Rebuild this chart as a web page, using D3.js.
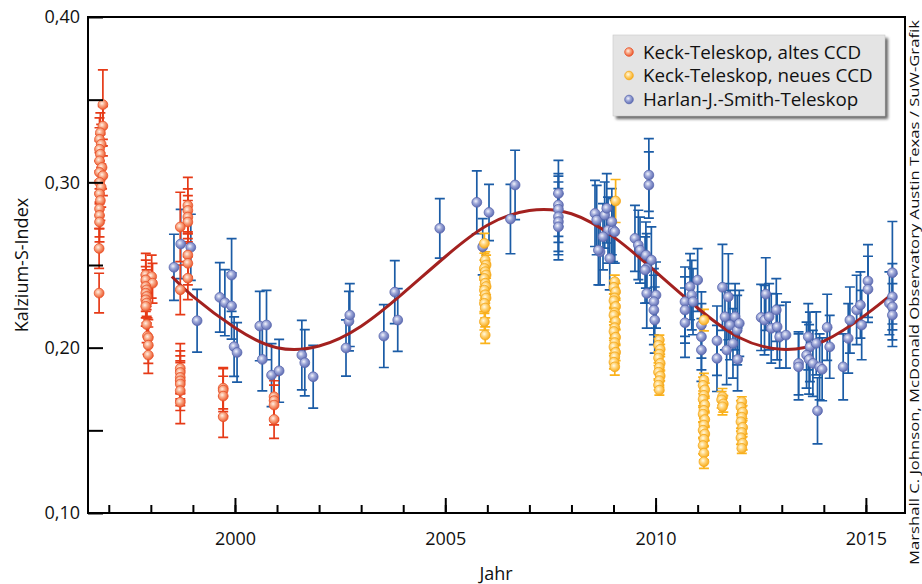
<!DOCTYPE html>
<html>
<head>
<meta charset="utf-8">
<script src="https://cdn.jsdelivr.net/npm/d3@7"></script>
<style>
  body { margin: 0; background: #fff; }
  svg { display: block; font-family: "Open Sans", sans-serif; }
</style>
</head>
<body>
<script>
// Dimensions
var width = 922,
    height = 584;

// ---- data ----
var yMajor = [0.10, 0.20, 0.30, 0.40];
var yMinor = [0.15, 0.25, 0.35];
var xMajor = [2000, 2005, 2010, 2015];
var xMinor = d3.range(1997, 2016);

var legendLabels = ["Keck-Teleskop, altes CCD", "Keck-Teleskop, neues CCD", "Harlan-J.-Smith-Teleskop"];
var credit = "Marshall C. Johnson, McDonald Observatory Austin Texas / SuW-Grafik";

// Keck, old CCD
var keckOldYear = [
  1996.86,1996.86,1996.80,1996.78,1996.82,1996.78,1996.80,1996.78,1996.84,1996.78,
  1996.86,1996.78,1996.82,1996.78,1996.80,1996.78,1996.78,1996.78,1996.77,1996.77,
  1997.88,1998.02,1997.88,1998.04,1997.88,1997.90,1997.88,1997.90,1997.88,1997.90,
  1997.88,1997.90,1997.92,1997.94,1997.94,1997.94,
  1998.88,1998.88,1998.88,1998.88,1998.70,1998.88,1998.88,1998.88,1998.70,
  1998.70,1998.70,1998.70,1998.70,1998.70,1998.70,1998.70,
  1999.72,1999.72,1999.72,1999.72,
  2000.93,2000.93,2000.93,2000.93
];
var keckOldS = [
  0.347,0.334,0.330,0.326,0.323,0.320,0.317,0.313,0.309,0.306,
  0.304,0.300,0.297,0.293,0.289,0.284,0.280,0.276,0.260,0.233,
  0.244,0.243,0.241,0.239,0.237,0.235,0.233,0.231,0.229,0.227,
  0.225,0.214,0.207,0.206,0.2015,0.1955,
  0.286,0.283,0.279,0.276,0.273,0.256,0.251,0.242,0.235,
  0.1875,0.185,0.182,0.180,0.178,0.174,0.167,
  0.1755,0.1743,0.1707,0.1582,
  0.1703,0.168,0.1653,0.1566
];
var keckOldErr = [
  0.021,0.012,0.012,0.013,0.012,0.013,0.012,0.012,0.013,0.012,
  0.012,0.013,0.012,0.013,0.012,0.012,0.013,0.012,0.012,0.012,
  0.013,0.013,0.012,0.012,0.012,0.012,0.011,0.012,0.011,0.012,
  0.012,0.011,0.011,0.011,0.011,0.011,
  0.017,0.013,0.013,0.013,0.021,0.013,0.013,0.013,0.015,
  0.015,0.013,0.013,0.012,0.013,0.012,0.013,
  0.0125,0.013,0.012,0.0125,
  0.013,0.012,0.012,0.0115
];

// Keck, new CCD
var keckNewYear = [
  2005.93,2005.95,2005.97,2005.93,2005.95,2005.97,2005.93,2005.95,
  2005.97,2005.93,2005.95,2005.97,2005.93,2005.95,2005.93,2005.95,
  2009.05,
  2009.03,2009.01,2009.05,2009.03,2009.01,2009.05,2009.03,2009.01,2009.05,
  2009.03,2009.01,2009.05,2009.03,2009.01,2009.05,2009.03,2009.01,2009.03,
  2010.09,2010.07,2010.11,2010.09,2010.07,2010.11,2010.09,2010.07,2010.11,2010.09,2010.07,2010.09,
  2011.15,
  2011.15,2011.13,2011.17,2011.15,2011.13,2011.17,2011.15,2011.13,
  2011.17,2011.15,2011.13,2011.17,2011.15,2011.13,2011.15,2011.15,
  2011.59,2011.57,2011.61,2011.59,
  2012.05,2012.03,2012.07,2012.05,2012.03,2012.07,2012.05,2012.03,2012.07,2012.05
];
var keckNewS = [
  0.2631,0.2530,0.2500,0.2480,0.2460,0.2440,0.2419,0.2390,
  0.2370,0.2348,0.2320,0.2300,0.2268,0.2240,0.2157,0.2076,
  0.2887,
  0.2399,0.2365,0.2338,0.2301,0.2284,0.2249,0.2212,0.2196,0.2158,
  0.2121,0.2098,0.2063,0.2031,0.2005,0.1972,0.1945,0.1912,0.1884,
  0.2046,0.2015,0.1990,0.1962,0.1938,0.1905,0.1881,0.1852,0.1829,0.1801,0.1774,0.1743,
  0.2167,
  0.1804,0.1772,0.1745,0.1712,0.1688,0.1655,0.1621,0.1598,
  0.1565,0.1532,0.1501,0.1478,0.1446,0.1408,0.1362,0.1310,
  0.1703,0.1685,0.1660,0.1643,
  0.1673,0.1640,0.1610,0.1580,0.1552,0.1518,0.1487,0.1455,0.1422,0.1391
];
var keckNewErr = [
  0.006,0.005,0.006,0.005,0.006,0.007,0.005,0.006,
  0.005,0.006,0.005,0.006,0.005,0.006,0.005,0.005,
  0.013,
  0.004,0.004,0.005,0.004,0.004,0.005,0.004,0.004,0.005,
  0.004,0.004,0.005,0.004,0.004,0.005,0.004,0.004,0.005,
  0.003,0.004,0.003,0.004,0.003,0.004,0.003,0.004,0.003,0.004,0.003,0.003,
  0.0065,
  0.004,0.005,0.004,0.004,0.005,0.004,0.004,0.005,
  0.004,0.004,0.005,0.004,0.004,0.005,0.004,0.004,
  0.005,0.005,0.005,0.005,
  0.003,0.004,0.004,0.003,0.004,0.004,0.003,0.004,0.004,0.003
];

// Harlan J. Smith telescope
var hjsYear = [
  1998.55,1998.71,1998.95,1999.10,1999.64,1999.76,1999.92,1999.92,1999.98,2000.05,
  2000.59,2000.75,2000.65,2000.87,2001.05,2001.59,2001.66,2001.86,
  2002.64,2002.71,2002.73,2003.54,2003.80,2003.87,2004.87,
  2005.75,2005.89,2006.04,2006.55,2006.66,
  2007.69,2007.69,2007.69,2007.69,2007.69,2007.69,
  2008.56,2008.60,2008.79,2008.84,2008.87,2008.75,2008.99,2008.68,2008.91,2008.64,2008.96,2009.03,
  2009.51,2009.59,2009.63,2009.77,2009.84,2009.84,2009.90,2009.79,2009.75,2009.79,2010.01,2009.96,2009.96,2009.98,
  2010.70,2010.70,2010.70,2010.82,2010.86,2010.89,2011.00,2011.09,2011.09,2011.09,
  2011.59,2011.73,2011.46,2011.46,2011.69,2011.65,2011.77,2011.89,2011.94,2011.99,2011.84,2011.95,
  2012.62,2012.51,2012.59,2012.70,2012.75,2012.87,2012.89,2012.95,2013.10,
  2013.40,2013.40,2013.63,2013.67,2013.59,2013.65,2013.74,2013.82,2013.90,2013.96,2014.08,2014.14,2013.85,
  2014.46,2014.58,2014.62,2014.78,2014.87,2014.90,2015.05,2015.05,
  2015.63,2015.63,2015.56,2015.63,2015.63
];
var hjsS = [
  0.2486,0.2627,0.2607,0.2163,0.2304,0.2272,0.2439,0.2252,0.2006,0.1971,
  0.2131,0.2137,0.1929,0.1834,0.1860,0.1955,0.1909,0.1824,
  0.1998,0.2160,0.2197,0.2070,0.2336,0.2167,0.2722,
  0.2879,0.2610,0.2818,0.2778,0.2984,
  0.2933,0.2863,0.2837,0.2792,0.2762,0.2731,
  0.2812,0.2772,0.2802,0.2843,0.2711,0.2671,0.2711,0.2580,0.2540,0.2590,0.2762,0.2701,
  0.2661,0.2621,0.2590,0.2560,0.3044,0.2984,0.2530,0.2480,0.2470,0.2328,0.2318,0.2278,0.2228,0.2167,
  0.2278,0.2228,0.2151,0.2369,0.2318,0.2278,0.2409,0.2137,0.2066,0.1986,
  0.2365,0.2308,0.2042,0.1935,0.1986,0.2187,0.2137,0.2187,0.2106,0.2147,0.2026,0.1929,
  0.2324,0.2183,0.2167,0.2187,0.2117,0.2228,0.2126,0.2066,0.2076,
  0.1905,0.1884,0.2066,0.2005,0.1955,0.1929,0.1905,0.2026,0.1884,0.1869,0.2123,0.2005,0.1618,
  0.1884,0.2056,0.2167,0.2228,0.2258,0.2137,0.2403,0.2353,
  0.2453,0.2308,0.2268,0.2247,0.2197
];
var hjsErr = [
  0.020,0.021,0.020,0.019,0.021,0.020,0.022,0.020,0.018,0.018,
  0.021,0.021,0.019,0.019,0.019,0.021,0.020,0.019,
  0.017,0.018,0.019,0.019,0.019,0.019,0.018,
  0.019,0.017,0.017,0.021,0.021,
  0.020,0.019,0.020,0.021,0.020,0.020,
  0.020,0.021,0.020,0.021,0.020,0.020,0.019,0.020,0.019,0.021,0.020,0.019,
  0.020,0.021,0.020,0.020,0.022,0.020,0.020,0.021,0.020,0.021,0.020,0.020,0.021,0.020,
  0.021,0.020,0.021,0.020,0.021,0.020,0.019,0.020,0.020,0.019,
  0.026,0.026,0.021,0.020,0.021,0.020,0.021,0.020,0.021,0.020,0.021,0.019,
  0.022,0.020,0.021,0.020,0.021,0.019,0.020,0.019,0.020,
  0.019,0.020,0.020,0.021,0.020,0.021,0.020,0.019,0.020,0.019,0.020,0.019,0.020,
  0.020,0.021,0.020,0.021,0.020,0.021,0.022,0.020,
  0.031,0.020,0.019,0.020,0.019
];

// fitted activity cycle
var fitYear = [1998.5, 1999, 2000, 2001, 2002, 2003, 2004, 2005, 2006, 2007,
               2008, 2009, 2010, 2011, 2012, 2013, 2014, 2015, 2015.65];
var fitS = [0.243, 0.231, 0.212, 0.200, 0.201, 0.213, 0.233, 0.255, 0.274, 0.283,
            0.281, 0.267, 0.246, 0.224, 0.206, 0.199, 0.204, 0.220, 0.233];

// ---- scales ----
var x = d3.scaleLinear().domain([1996.506, 2015.93]).range([88, 905]);
var y = d3.scaleLinear().domain([0.10, 0.40]).range([513, 17]);
var comma = function(d) { return d3.format(".2f")(d).replace(".", ","); };

var svg = d3.select("body").append("svg")
    .attr("width", width)
    .attr("height", height);

var defs = svg.append("defs");

function ball(id, c0, c1, c2) {
  var g = defs.append("radialGradient").attr("id", id)
      .attr("cx", "40%").attr("cy", "38%").attr("r", "62%");
  g.append("stop").attr("offset", "0%").attr("stop-color", c0);
  g.append("stop").attr("offset", "45%").attr("stop-color", c1);
  g.append("stop").attr("offset", "100%").attr("stop-color", c2);
}
ball("gRed", "#fff0e6", "#f8a683", "#ec5a30");
ball("gYel", "#fffbe6", "#ffd479", "#f8ad1e");
ball("gBlu", "#f3f4fb", "#9da7d8", "#5f6db3");

defs.append("filter").attr("id", "blur")
  .append("feGaussianBlur").attr("stdDeviation", 1.8);

var series = [
  {years: hjsYear, s: hjsS, err: hjsErr, bar: "#1b5ca6", fill: "url(#gBlu)", stroke: "#5a68ae"},
  {years: keckOldYear, s: keckOldS, err: keckOldErr, bar: "#e63a17", fill: "url(#gRed)", stroke: "#e9532b"},
  {years: keckNewYear, s: keckNewS, err: keckNewErr, bar: "#fbb31b", fill: "url(#gYel)", stroke: "#f4a81c"}
];

series.forEach(function(sr) {
  sr.data = sr.years.map(function(t, i) { return {t: t, s: sr.s[i], e: sr.err[i]}; });
});

// error bars
series.forEach(function(sr) {
  var g = svg.append("g").attr("stroke", sr.bar).attr("stroke-width", 1.7).attr("fill", "none");
  g.selectAll("path").data(sr.data).enter().append("path")
    .attr("d", function(d) {
      var cx = x(d.t), y0 = y(d.s - d.e), y1 = y(d.s + d.e);
      return "M" + cx + "," + y0 + "V" + y1 +
             "M" + (cx - 5) + "," + y0 + "H" + (cx + 5) +
             "M" + (cx - 5) + "," + y1 + "H" + (cx + 5);
    });
});

// fit curve
var line = d3.line()
    .x(function(d, i) { return x(fitYear[i]); })
    .y(function(d) { return y(d); })
    .curve(d3.curveNatural);
svg.append("path")
    .attr("d", line(fitS))
    .attr("fill", "none")
    .attr("stroke", "#a3211f")
    .attr("stroke-width", 3);

// points
series.forEach(function(sr) {
  svg.append("g").selectAll("circle").data(sr.data).enter().append("circle")
    .attr("cx", function(d) { return x(d.t); })
    .attr("cy", function(d) { return y(d.s); })
    .attr("r", 4.9)
    .attr("fill", sr.fill)
    .attr("stroke", sr.stroke)
    .attr("stroke-width", 0.8);
});

// axes (ticks inward)
svg.append("g").attr("transform", "translate(88,0)")
    .call(d3.axisLeft(y).tickValues(yMajor).tickSize(-15).tickPadding(8).tickFormat(comma));
svg.append("g").attr("transform", "translate(88,0)")
    .call(d3.axisLeft(y).tickValues(yMinor).tickSize(-15).tickFormat(""));
svg.append("g").attr("transform", "translate(0,513)")
    .call(d3.axisBottom(x).tickValues(xMajor).tickSize(-15).tickPadding(19).tickFormat(d3.format("d")));
svg.append("g").attr("transform", "translate(0,513)")
    .call(d3.axisBottom(x).tickValues(xMinor).tickSize(-8).tickFormat(""));

svg.selectAll(".domain").remove();
svg.selectAll(".tick line").attr("stroke", "#000").attr("stroke-width", 2);
svg.selectAll(".tick text").attr("fill", "#111").style("font-size", "18px")
    .style("font-family", "'Open Sans', sans-serif");

// frame
svg.append("rect")
    .attr("x", 88).attr("y", 17)
    .attr("width", 905 - 88).attr("height", 513 - 17)
    .attr("fill", "none").attr("stroke", "#000").attr("stroke-width", 2);

// axis titles
svg.append("text")
    .attr("transform", "translate(28,265) rotate(-90)")
    .attr("text-anchor", "middle")
    .attr("font-size", "18px")
    .attr("fill", "#111")
    .text("Kalzium-S-Index");

svg.append("text")
    .attr("x", 496).attr("y", 580)
    .attr("text-anchor", "middle")
    .attr("font-size", "18px")
    .attr("fill", "#111")
    .text("Jahr");

// credit line on the right
svg.append("text")
    .attr("transform", "translate(918.5,565) rotate(-90)")
    .attr("font-size", "12.6px")
    .attr("textLength", 545)
    .attr("lengthAdjust", "spacingAndGlyphs")
    .attr("fill", "#111")
    .text(credit);

// legend
var lg = svg.append("g");
lg.append("rect").attr("x", 616).attr("y", 38).attr("width", 272).attr("height", 81)
    .attr("fill", "#666").attr("filter", "url(#blur)");
lg.append("rect").attr("x", 613).attr("y", 35).attr("width", 272).attr("height", 81)
    .attr("fill", "#e4e4e4").attr("stroke", "#c8c8c8").attr("stroke-width", 0.6);
var legFill = ["url(#gRed)", "url(#gYel)", "url(#gBlu)"];
var legStroke = ["#e9532b", "#f4a81c", "#5a68ae"];
var legY = [52, 75.5, 99.5];
legendLabels.forEach(function(t, i) {
  lg.append("circle").attr("cx", 629).attr("cy", legY[i]).attr("r", 4.3)
    .attr("fill", legFill[i]).attr("stroke", legStroke[i]).attr("stroke-width", 0.8);
  lg.append("text").attr("x", 643).attr("y", legY[i] + 6.5)
    .attr("font-size", "18.8px").attr("fill", "#111").text(t);
});
</script>
</body>
</html>
